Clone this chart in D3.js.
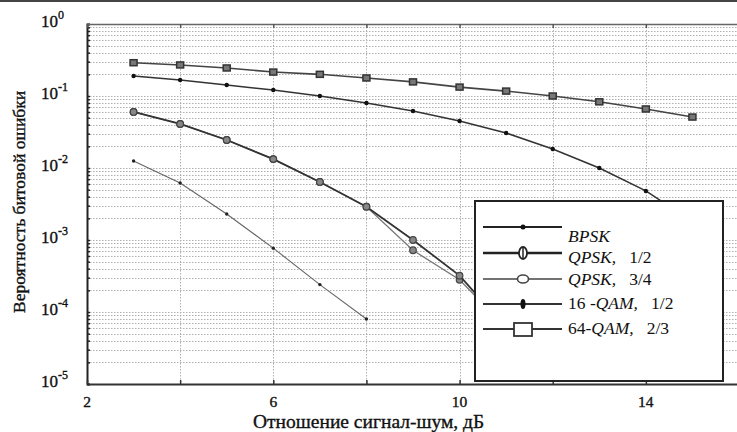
<!DOCTYPE html>
<html>
<head>
<meta charset="utf-8">
<script src="https://cdn.jsdelivr.net/npm/d3@7"></script>
<style>
  body { margin:0; background:#fff; }
  svg { display:block; font-family:"Liberation Serif", "DejaVu Serif", serif; }
  .grid line { stroke:#b0b0b0; stroke-width:1; stroke-dasharray:1.5,1.5; }
  .lbl { fill:#111; stroke:#111; stroke-width:0.35; }
</style>
</head>
<body>
<svg id="chart"></svg>
<script>
// SNR, dB
var snr = [3, 4, 5, 6, 7, 8, 9, 10, 11, 12, 13, 14, 15];
var snrBpsk = [3, 4, 5, 6, 7, 8];
var snrQpsk = [3, 4, 5, 6, 7, 8, 9, 10, 11];

// bit error rate
var qam64 = [0.29, 0.27, 0.245, 0.215, 0.2, 0.178, 0.157, 0.133, 0.117, 0.1, 0.083, 0.066, 0.051];
var qam16 = [0.19, 0.167, 0.142, 0.121, 0.1, 0.08, 0.062, 0.045, 0.0306, 0.0184, 0.01, 0.0048, 0.0018];
var qpsk12 = [0.06, 0.041, 0.0245, 0.0133, 0.0064, 0.0029, 0.001, 0.00032, 0.00006];
var qpsk34 = [0.06, 0.041, 0.0245, 0.0133, 0.0064, 0.0029, 0.00072, 0.00028, 0.00006];
var bpsk = [0.0125, 0.0062, 0.0023, 0.00077, 0.00024, 0.00008];

var xTicks = [2, 4, 6, 8, 10, 12, 14, 16];
var xLabels = [2, 6, 10, 14];
var yDecades = [0, -1, -2, -3, -4, -5];

var W = 737, H = 432;
var margin = {top:24, left:87, bottom:48};

var svg = d3.select('#chart').attr('width', W).attr('height', H);

var x = d3.scaleLinear().domain([2, 16]).range([margin.left, 739]);
var y = d3.scaleLog().domain([1e-5, 1]).range([H - margin.bottom, margin.top]);

// frame line at the very top of the scan
svg.append('rect').attr('x', 0).attr('y', 0).attr('width', W).attr('height', 2).attr('fill', '#444');

// minor values for the grid
var minors = [];
yDecades.slice(1).forEach(function(e) {
  for (var k = 2; k <= 9; k++) minors.push(k * Math.pow(10, e));
});

var grid = svg.append('g').attr('class', 'grid');
grid.selectAll('line.h').data(minors.concat([0.1, 0.01, 0.001, 0.0001])).enter().append('line')
  .attr('x1', margin.left).attr('x2', W)
  .attr('y1', function(d) { return Math.round(y(d)) + 0.5; })
  .attr('y2', function(d) { return Math.round(y(d)) + 0.5; });
grid.selectAll('line.v').data(xTicks.slice(1, -1)).enter().append('line')
  .attr('y1', margin.top).attr('y2', y(1e-5))
  .attr('x1', function(d) { return Math.round(x(d)) + 0.5; })
  .attr('x2', function(d) { return Math.round(x(d)) + 0.5; });

// axes
var yAxis = d3.axisLeft(y).tickValues(minors.concat(yDecades.map(function(e) { return Math.pow(10, e); })))
  .tickSize(-3).tickFormat('');
var gy = svg.append('g').attr('transform', 'translate(' + margin.left + ',0)').call(yAxis);
gy.select('.domain').attr('stroke', '#222').attr('stroke-width', 2);
gy.selectAll('.tick line').attr('stroke', '#222').attr('stroke-width', 1.5);

var xAxis = d3.axisBottom(x).tickValues(xTicks).tickSize(-4).tickSizeOuter(0).tickFormat('');
var gx = svg.append('g').attr('transform', 'translate(0,' + y(1e-5) + ')').call(xAxis);
gx.select('.domain').attr('stroke', '#333').attr('stroke-width', 2);
gx.selectAll('.tick line').attr('stroke', '#333').attr('stroke-width', 1.5);

var xTop = d3.axisTop(x).tickValues(xTicks).tickSize(-4).tickSizeOuter(0).tickFormat('');
var gt = svg.append('g').attr('transform', 'translate(0,' + margin.top + ')').call(xTop);
gt.select('.domain').attr('stroke', '#666').attr('stroke-width', 1.5);
gt.selectAll('.tick line').attr('stroke', '#555').attr('stroke-width', 1.5);

// tick labels
svg.selectAll('text.xl').data(xLabels).enter().append('text').attr('class', 'lbl')
  .attr('x', function(d) { return x(d); }).attr('y', 407)
  .attr('text-anchor', 'middle').attr('font-size', 15.5)
  .text(function(d) { return d; });

var yl = svg.selectAll('text.yl').data(yDecades).enter().append('text').attr('class', 'lbl')
  .attr('x', 41).attr('y', function(d) { return y(Math.pow(10, d)) + 3; })
  .attr('font-size', 17);
yl.append('tspan').text('10');
yl.append('tspan').attr('dy', -8).attr('font-size', 12).text(function(d) { return d; });

// axis titles
svg.append('text').attr('class', 'lbl').attr('x', 253).attr('y', 428).attr('font-size', 19.5)
  .text('Отношение сигнал-шум, дБ');
svg.append('text').attr('class', 'lbl').attr('transform', 'translate(25,202) rotate(-90)')
  .attr('text-anchor', 'middle').attr('font-size', 17.5).text('Вероятность битовой ошибки');

// series
var series = [
  {name:'64-QAM', xs:snr, ys:qam64, stroke:'#444', sw:1.6, marker:'square'},
  {name:'16-QAM', xs:snr, ys:qam16, stroke:'#333', sw:1.5, marker:'dot'},
  {name:'QPSK 3/4', xs:snrQpsk, ys:qpsk34, stroke:'#777', sw:1.3, marker:'circle'},
  {name:'QPSK 1/2', xs:snrQpsk, ys:qpsk12, stroke:'#333', sw:1.8, marker:'circle'},
  {name:'BPSK', xs:snrBpsk, ys:bpsk, stroke:'#666', sw:1.1, marker:'small'}
];

var line = d3.line().x(function(d) { return x(d[0]); }).y(function(d) { return y(d[1]); });

function drawMarker(g, type, cx, cy) {
  if (type === 'square') {
    g.append('rect').attr('x', cx - 3.5).attr('y', cy - 3).attr('width', 7).attr('height', 6)
      .attr('fill', '#777').attr('stroke', '#333').attr('stroke-width', 1.5);
  } else if (type === 'circle') {
    g.append('circle').attr('cx', cx).attr('cy', cy).attr('r', 3.3)
      .attr('fill', '#888').attr('stroke', '#444').attr('stroke-width', 1.2);
  } else if (type === 'dot') {
    g.append('circle').attr('cx', cx).attr('cy', cy).attr('r', 2.2).attr('fill', '#111');
  } else {
    g.append('circle').attr('cx', cx).attr('cy', cy).attr('r', 1.7).attr('fill', '#222');
  }
}

series.forEach(function(s) {
  var pts = s.xs.map(function(v, i) { return [v, s.ys[i]]; });
  var g = svg.append('g');
  g.append('path').datum(pts).attr('d', line).attr('fill', 'none')
    .attr('stroke', s.stroke).attr('stroke-width', s.sw);
  pts.forEach(function(p) { drawMarker(g, s.marker, x(p[0]), y(p[1])); });
});

// legend
var leg = svg.append('g');
leg.append('rect').attr('x', 475).attr('y', 201).attr('width', 248).attr('height', 180)
  .attr('fill', '#fff').attr('stroke', '#222').attr('stroke-width', 2);

var legItems = [
  {lineY:227, textY:242, sw:2.2, col:'#222', marker:'small', parts:[['BPSK', true]]},
  {lineY:253, textY:263, sw:2.4, col:'#222', marker:'ovalV', parts:[['QPSK,', true], ['   1/2', false]]},
  {lineY:279, textY:285, sw:1.6, col:'#444', marker:'ovalH', parts:[['QPSK,', true], ['   3/4', false]]},
  {lineY:304, textY:309, sw:2, col:'#333', marker:'star', parts:[['16', false], [' -QAM,', true], ['   1/2', false]]},
  {lineY:329, textY:334, sw:2.2, col:'#333', marker:'box', parts:[['64', false], ['-QAM,', true], ['   2/3', false]]}
];

legItems.forEach(function(it) {
  leg.append('line').attr('x1', 483).attr('x2', 562).attr('y1', it.lineY).attr('y2', it.lineY)
    .attr('stroke', it.col).attr('stroke-width', it.sw);
  var cx = 523, cy = it.lineY;
  if (it.marker === 'small') {
    leg.append('circle').attr('cx', cx).attr('cy', cy).attr('r', 2.5).attr('fill', '#111');
  } else if (it.marker === 'ovalV') {
    leg.append('ellipse').attr('cx', cx).attr('cy', cy).attr('rx', 4).attr('ry', 6)
      .attr('fill', '#fff').attr('stroke', '#222').attr('stroke-width', 1.8);
    leg.append('line').attr('x1', cx).attr('x2', cx).attr('y1', cy - 6).attr('y2', cy + 6)
      .attr('stroke', '#222').attr('stroke-width', 1.5);
  } else if (it.marker === 'ovalH') {
    leg.append('ellipse').attr('cx', cx).attr('cy', cy).attr('rx', 5.5).attr('ry', 4)
      .attr('fill', '#fff').attr('stroke', '#444').attr('stroke-width', 1.6);
  } else if (it.marker === 'star') {
    leg.append('ellipse').attr('cx', cx).attr('cy', cy).attr('rx', 2.5).attr('ry', 5).attr('fill', '#111');
  } else {
    leg.append('rect').attr('x', cx - 9).attr('y', cy - 6).attr('width', 18).attr('height', 13)
      .attr('fill', '#fff').attr('stroke', '#333').attr('stroke-width', 1.8);
  }
  var t = leg.append('text').attr('x', 568).attr('y', it.textY).attr('font-size', 17.5).attr('fill', '#111')
    .attr('xml:space', 'preserve');
  it.parts.forEach(function(p) {
    t.append('tspan').attr('font-style', p[1] ? 'italic' : 'normal').text(p[0]);
  });
});
</script>
</body>
</html>
